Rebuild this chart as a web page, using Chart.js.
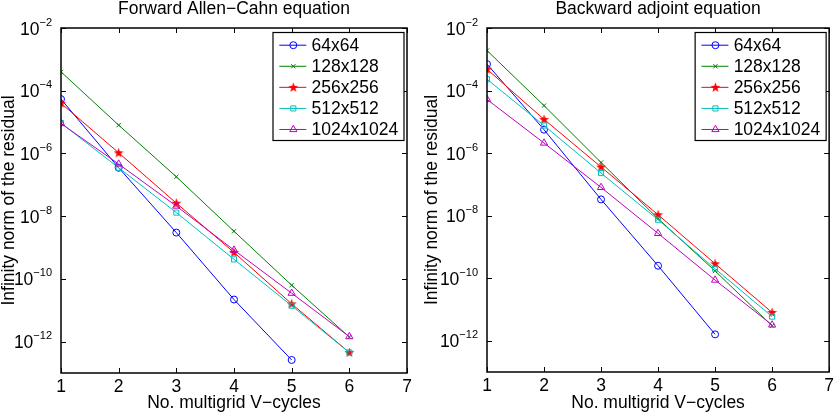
<!DOCTYPE html>
<html>
<head>
<meta charset="utf-8">
<script src="https://cdn.jsdelivr.net/npm/chart.js@4/dist/chart.umd.min.js"></script>
<style>
  body { margin: 0; background: #fff; }
  #wrap { position: relative; width: 838px; height: 416px; }
  canvas { position: absolute; top: 0; }
  #chart-forward { left: 0; }
  #chart-backward { left: 419px; }
</style>
</head>
<body>
<div id="wrap">
  <canvas id="chart-forward" width="419" height="416"></canvas>
  <canvas id="chart-backward" width="419" height="416"></canvas>
</div>
<script>
// V-cycle counts (x) and residual norms per grid size
const cycles = [1, 2, 3, 4, 5, 6];
const gridLabels = ['64x64', '128x128', '256x256', '512x512', '1024x1024'];
const yTickExponents = [-2, -4, -6, -8, -10, -12];
const xTickValues = [1, 2, 3, 4, 5, 6, 7];

// Forward Allen-Cahn equation
const fwd64 = [5.4e-5, 3.5e-7, 3e-9, 2.2e-11, 2.6e-13];
const fwd128 = [4e-4, 8e-6, 1.8e-7, 3.3e-9, 6.3e-11, 1.4e-12];
const fwd256 = [4e-5, 1.05e-6, 2.6e-8, 7e-10, 1.6e-11, 4.5e-13];
const fwd512 = [9.3e-6, 3.5e-7, 1.3e-8, 4.2e-10, 1.4e-11, 4.5e-13];
const fwd1024 = [9e-6, 4.6e-7, 2.1e-8, 8.3e-10, 3.5e-11, 1.45e-12];

// Backward adjoint equation
const bwd64 = [7e-4, 5.6e-6, 3.3e-8, 2.5e-10, 1.6e-12];
const bwd128 = [1.9e-3, 3.3e-5, 5e-7, 8e-9, 1.7e-10, 3e-12];
const bwd256 = [4.8e-4, 1.2e-5, 3.6e-7, 1.07e-8, 2.9e-10, 8e-12];
const bwd512 = [2.3e-4, 7.6e-6, 2.3e-7, 7.4e-9, 2e-10, 5.9e-12];
const bwd1024 = [5.2e-5, 2.1e-6, 8e-8, 2.7e-9, 8.7e-11, 3.2e-12];

const FONT = '"Liberation Sans", Arial, Helvetica, sans-serif';
const FS = 17.5;

// filled pentagram marker (matlab style)
function makeStar(color) {
  const c = document.createElement('canvas');
  c.width = 11; c.height = 11;
  const g = c.getContext('2d');
  g.fillStyle = color;
  g.beginPath();
  for (let i = 0; i < 10; i++) {
    const r = i % 2 === 0 ? 5.2 : 2.1;
    const a = -Math.PI / 2 + i * Math.PI / 5;
    const px = 5.5 + r * Math.cos(a), py = 5.8 + r * Math.sin(a);
    if (i === 0) g.moveTo(px, py); else g.lineTo(px, py);
  }
  g.closePath();
  g.fill();
  return c;
}
const redStar = makeStar('#ff0000');

const seriesStyle = [
  { color: '#0000ff', pointStyle: 'circle', radius: 3.5 },
  { color: '#008000', pointStyle: 'crossRot', radius: 3 },
  { color: '#ff0000', pointStyle: redStar, radius: 5 },
  { color: '#00bfbf', pointStyle: 'rect', radius: 3.6 },
  { color: '#bf00bf', pointStyle: 'triangle', radius: 4.2 },
];

function toPoints(vals) {
  return vals.map((v, i) => ({ x: cycles[i], y: v }));
}

function buildDatasets(seriesList) {
  return seriesList.map((vals, i) => ({
    label: gridLabels[i],
    data: toPoints(vals),
    borderColor: seriesStyle[i].color,
    backgroundColor: 'rgba(0,0,0,0)',
    pointBorderColor: seriesStyle[i].color,
    pointBackgroundColor: 'rgba(0,0,0,0)',
    pointStyle: seriesStyle[i].pointStyle,
    pointRadius: seriesStyle[i].radius,
    pointBorderWidth: 1,
    borderWidth: 1,
    tension: 0,
    order: seriesList.length - i,
  }));
}

// Title, box, inward ticks, y labels with superscripts, legend
const matlabAxes = {
  id: 'matlabAxes',
  afterDraw(chart) {
    const { ctx, chartArea: a, scales } = chart;
    const x = scales.x, y = scales.y;
    ctx.save();

    // title centred over the plot box
    ctx.fillStyle = '#000';
    ctx.font = FS + 'px ' + FONT;
    ctx.textAlign = 'center';
    ctx.textBaseline = 'middle';
    ctx.fillText(chart.options.plotTitle, (a.left + a.right) / 2, 9.5);

    ctx.strokeStyle = '#000';
    ctx.lineWidth = 1.5;
    ctx.strokeRect(a.left, a.top, a.right - a.left, a.bottom - a.top);

    ctx.lineWidth = 1;
    const tl = 5;
    ctx.beginPath();
    xTickValues.forEach(v => {
      const px = Math.round(x.getPixelForValue(v)) + 0.5;
      ctx.moveTo(px, a.bottom); ctx.lineTo(px, a.bottom - tl);
      ctx.moveTo(px, a.top); ctx.lineTo(px, a.top + tl);
    });
    yTickExponents.forEach(e => {
      const py = Math.round(y.getPixelForValue(Math.pow(10, e))) + 0.5;
      ctx.moveTo(a.left, py); ctx.lineTo(a.left + tl, py);
      ctx.moveTo(a.right, py); ctx.lineTo(a.right - tl, py);
    });
    ctx.stroke();

    // y tick labels 10^n
    ctx.textBaseline = 'alphabetic';
    ctx.textAlign = 'right';
    yTickExponents.forEach(e => {
      const py = y.getPixelForValue(Math.pow(10, e));
      const sup = '\u2212' + Math.abs(e);
      ctx.font = '11px ' + FONT;
      const supW = ctx.measureText(sup).width;
      const right = a.left - 9;
      ctx.fillText(sup, right, py - 2.5);
      ctx.font = FS + 'px ' + FONT;
      ctx.fillText('10', right - supW, py + 6.5);
    });

    // legend
    const bw = 131, bh = 108;
    const bx = a.right - 3 - bw, by = a.top + 4.5;
    ctx.fillStyle = '#fff';
    ctx.fillRect(bx, by, bw, bh);
    ctx.lineWidth = 1.2;
    ctx.strokeStyle = '#000';
    ctx.strokeRect(bx, by, bw, bh);
    chart.data.datasets.forEach((ds, i) => {
      const ly = by + 12.7 + i * 21.07;
      ctx.strokeStyle = ds.borderColor;
      ctx.lineWidth = 1;
      ctx.beginPath();
      ctx.moveTo(bx + 6.3, ly); ctx.lineTo(bx + 33.3, ly);
      ctx.stroke();
      ctx.fillStyle = 'rgba(0,0,0,0)';
      Chart.helpers.drawPoint(ctx, {
        pointStyle: ds.pointStyle, radius: ds.pointRadius, rotation: 0, borderWidth: 1
      }, bx + 20.3, ly);
      ctx.fillStyle = '#000';
      ctx.textAlign = 'left';
      ctx.textBaseline = 'middle';
      ctx.font = FS + 'px ' + FONT;
      ctx.fillText(ds.label, bx + 38.5, ly + 1);
    });
    ctx.restore();
  }
};

function makeChart(id, title, seriesList, yWidth, padRight, xHeight) {
  const ctx = document.getElementById(id);
  return new Chart(ctx, {
    type: 'line',
    data: { datasets: buildDatasets(seriesList) },
    options: {
      plotTitle: title,
      responsive: false,
      devicePixelRatio: 1,
      animation: false,
      layout: { padding: { left: 0, right: padRight, top: 28, bottom: 0 } },
      plugins: {
        legend: { display: false },
        tooltip: { enabled: false },
        title: { display: false }
      },
      scales: {
        x: {
          type: 'linear',
          min: 1, max: 7,
          grid: { display: false, drawTicks: false, tickLength: 0 },
          border: { display: false },
          afterBuildTicks: s => { s.ticks = xTickValues.map(v => ({ value: v })); },
          afterFit: s => { s.height = xHeight; },
          ticks: {
            color: '#000', padding: 4, maxRotation: 0,
            font: { family: FONT, size: FS }
          },
          title: {
            display: true, text: 'No. multigrid V\u2212cycles', color: '#000',
            font: { family: FONT, size: FS, lineHeight: 1.2 },
            padding: { top: 0, bottom: 2 }
          }
        },
        y: {
          type: 'logarithmic',
          min: 1e-13, max: 1e-2,
          grid: { display: false },
          border: { display: false },
          ticks: { display: false },
          afterFit: s => { s.width = yWidth; },
          title: {
            display: true, text: 'Infinity norm of the residual', color: '#000',
            font: { family: FONT, size: FS, lineHeight: 1 },
            padding: { top: yWidth > 64 ? 4 : 0, bottom: 0 }
          }
        }
      }
    },
    plugins: [matlabAxes]
  });
}

makeChart('chart-forward', 'Forward Allen\u2212Cahn equation',
  [fwd64, fwd128, fwd256, fwd512, fwd1024], 61, 12, 43);
makeChart('chart-backward', 'Backward adjoint equation',
  [bwd64, bwd128, bwd256, bwd512, bwd1024], 68, 6, 44);
</script>
</body>
</html>
